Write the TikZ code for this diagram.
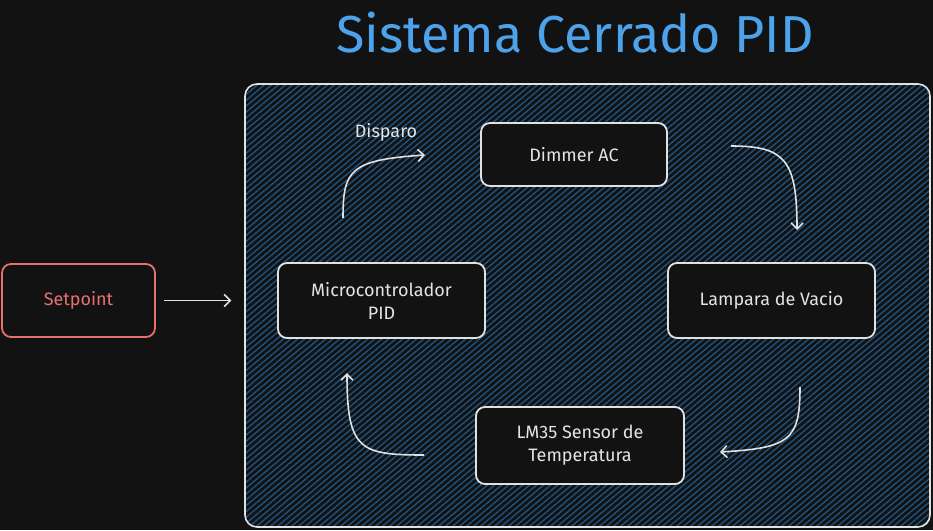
\documentclass[tikz,border=0pt]{standalone}
\usepackage{fontspec}
\setmainfont{Fira Sans}
\usetikzlibrary{arrows.meta,patterns.meta}
\definecolor{bgdark}{RGB}{18,18,18}
\definecolor{linegray}{RGB}{225,225,225}
\definecolor{textgray}{RGB}{228,228,228}
\definecolor{spred}{RGB}{232,112,112}
\definecolor{titleblue}{RGB}{77,163,235}
\definecolor{hatchblue}{RGB}{30,82,128}
\begin{document}
\begin{tikzpicture}[x=1pt,y=-1pt,
    box/.style={draw=linegray,fill=bgdark,rounded corners=9pt,line width=1.8pt,
      text=textgray,align=center,font=\fontsize{18}{23}\selectfont,inner sep=0pt},
    flow/.style={draw=linegray,line width=1.6pt,-{Straight Barb[length=6pt,width=12pt]}}]
  \useasboundingbox (0,0) rectangle (933,530);
  \fill[bgdark] (0,0) rectangle (933,530);
  % closed loop frame
  \node[draw=linegray,line width=1.6pt,rounded corners=12pt,
        pattern={Lines[angle=40,distance=4.5pt,line width=1.4pt]},pattern color=hatchblue,
        minimum width=685pt,minimum height=443pt,inner sep=0pt] (lazo) at (587.5,305.5) {};
  \node[text=titleblue,font=\fontsize{52}{60}\selectfont] (titulo) at (575,33) {Sistema Cerrado PID};
  % blocks
  \node[box,draw=spred,text=spred,minimum width=153pt,minimum height=73pt] (setp) at (78.5,300.5) {Setpoint};
  \node[box,minimum width=207pt,minimum height=75pt] (micro) at (381.5,300.5) {Microcontrolador\\PID};
  \node[box,minimum width=186pt,minimum height=63pt] (dimmer) at (574,154.5) {Dimmer AC};
  \node[box,minimum width=207pt,minimum height=75pt] (lamp) at (771.5,300.5) {Lampara de Vacio};
  \node[box,minimum width=208pt,minimum height=77pt] (lm35) at (580,445.5) {LM35 Sensor de\\Temperatura};
  \node[text=textgray,font=\fontsize{18}{23}\selectfont] (disp) at (386,132) {Disparo};
  % free ends of the curved arrows
  \coordinate (a1) at (343,218); \coordinate (a2) at (425,155);
  \coordinate (b1) at (731,146); \coordinate (b2) at (797,230);
  \coordinate (c1) at (800,387); \coordinate (c2) at (720,452);
  \coordinate (d1) at (424,455); \coordinate (d2) at (347,373);
  \draw[flow] ([xshift=8pt]setp.east) -- ([xshift=-13pt]setp.east -| lazo.west);
  \draw[flow] (a1) .. controls (343,170) and (350,160) .. (a2);
  \draw[flow] (b1) .. controls (785,146) and (797,160) .. (b2);
  \draw[flow] (c1) .. controls (800,440) and (790,448) .. (c2);
  \draw[flow] (d1) .. controls (360,455) and (347,450) .. (d2);
\end{tikzpicture}
\end{document}
